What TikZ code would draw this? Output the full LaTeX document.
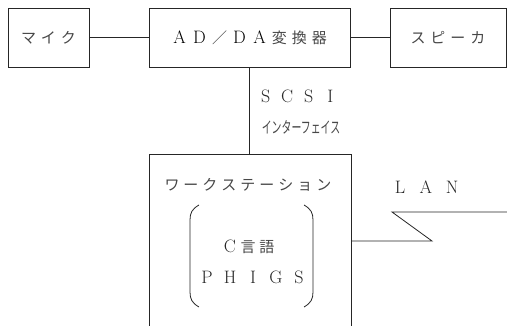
\documentclass[tikz,border=0pt]{standalone}
\usepackage{fontspec}
\usepackage{xcolor}
\newfontfamily\jp{Noto Sans CJK JP}
\newcommand\J{\jp\fontsize{15}{18}\selectfont\color{black!72}}
\newcommand\Lt{\rmfamily\fontsize{18}{21}\selectfont}
\newcommand\cc[2][20pt]{\makebox[#1]{#2}}
\begin{document}
\begin{tikzpicture}[x=1pt,y=-1pt,
  line width=0.8pt, draw=black!85,
  box/.style={draw, inner sep=0pt, minimum height=59pt},
  lbl/.style={inner sep=0pt, text=black!85}]
\useasboundingbox (0,0) rectangle (507,326);
% boxes
\node[box, minimum width=81pt] (mic) at (48.5,37.5) {\J\cc{マ}\cc{イ}\cc{ク}};
\node[box, minimum width=201pt] (adda) at (249.5,37.5)
  {\Lt\cc{A}\cc{D}{\J\cc{／}}\cc{D}\cc{A}{\J\cc{変}\cc{換}\cc{器}}};
\node[box, minimum width=116pt] (spk) at (448,37.5) {\J\cc{ス}\cc{ピ}\cc{ー}\cc{カ}};
% workstation (open bottom)
\node[inner sep=0pt, minimum width=201pt, minimum height=172pt] (ws) at (250.5,241) {};
\draw (ws.south west) |- (ws.north east) -- (ws.south east);
\node[lbl] (wst) at (248,185) {\J\cc[19pt]{ワ}\cc[19pt]{ー}\cc[19pt]{ク}\cc[19pt]{ス}\cc[19pt]{テ}\cc[19pt]{ー}\cc[19pt]{シ}\cc[19pt]{ョ}\cc[19pt]{ン}};
% brackets
\coordinate (pl) at (190,256);
\coordinate (pr) at (313,256);
\draw (pl) ++(9,-51) .. controls (192,209) and (190,213) .. (190,220)
  -- (190,292) .. controls (190,299) and (192,303) .. (199,307);
\draw (pr) ++(-9,-51) .. controls (311,209) and (313,213) .. (313,220)
  -- (313,292) .. controls (313,299) and (311,303) .. (304,307);
\node[lbl] (clang) at (249,247) {\Lt\cc[17pt]{C}{\J\cc[19pt]{言}\cc[19pt]{語}}};
\node[lbl] (phigs) at (253,277) {\Lt\cc[23pt]{P}\cc[23pt]{H}\cc[23pt]{I}\cc[23pt]{G}\cc[23pt]{S}};
% SCSI label
\node[lbl] (scsi) at (298,96) {\Lt\cc[21.5pt]{S}\cc[21.5pt]{C}\cc[21.5pt]{S}\cc[21.5pt]{I}};
\node[lbl] (intf) at (301,127) {\scalebox{0.62}[1]{\jp\fontsize{16}{18}\selectfont\color{black!72}インターフェイス}};
% LAN
\node[lbl] (lan) at (426,187) {\Lt\cc[26pt]{L}\cc[26pt]{A}\cc[26pt]{N}};
\coordinate (lanA) at (432,241);
\coordinate (lanB) at (392,212);
\coordinate (lanC) at (507,212);
% connectors
\draw (mic) -- (adda);
\draw (adda) -- (spk);
\draw (adda.south) -- (adda.south |- ws.north);
\draw (ws.east |- lanA) -- (lanA) -- (lanB) -- (lanC);
\end{tikzpicture}
\end{document}
